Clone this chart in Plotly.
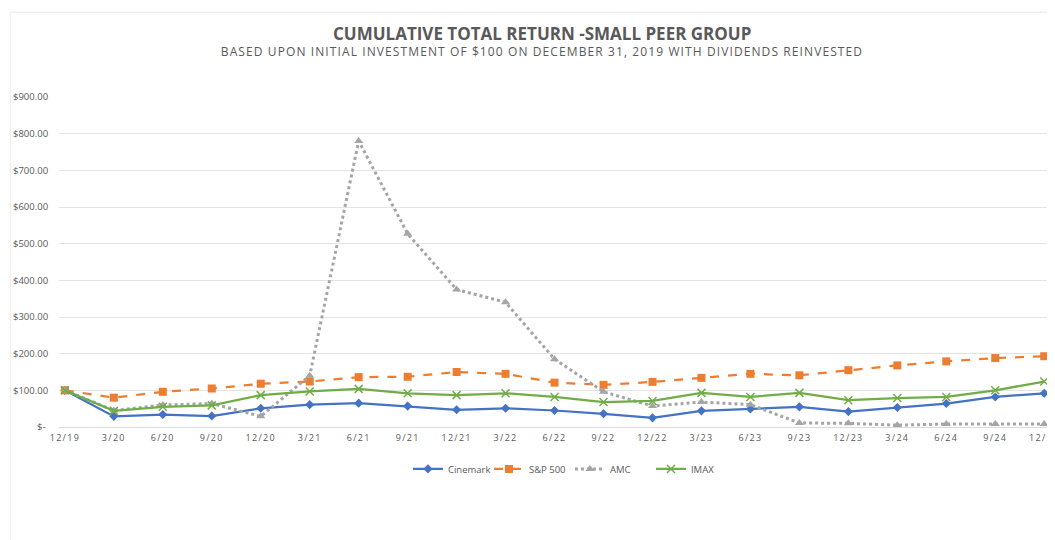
import plotly.graph_objects as go

quarters = ["12/19", "3/20", "6/20", "9/20", "12/20", "3/21", "6/21", "9/21", "12/21", "3/22",
            "6/22", "9/22", "12/22", "3/23", "6/23", "9/23", "12/23", "3/24", "6/24", "9/24", "12/24"]
cinemark = [100, 29, 34, 30, 51, 61, 65, 57, 47, 51, 45, 36, 25, 44, 49, 55, 42, 53, 64, 82, 92]
sp500 = [100, 80, 96, 105, 118, 124, 136, 137, 150, 145, 121, 115, 123, 134, 145, 141, 155, 168, 179, 188, 193]
amc = [100, 45, 60, 64, 29, 140, 780, 527, 375, 340, 185, 96, 57, 68, 61, 11, 10, 5, 8, 8, 8]
imax = [100, 44, 55, 59, 87, 97, 104, 92, 87, 92, 82, 68, 71, 93, 82, 93, 73, 79, 82, 100, 124]
y_ticks = [0, 100, 200, 300, 400, 500, 600, 700, 800, 900]
y_labels = ["\u2007\u2007\u2007\u2007$-\u2008", "$100.00", "$200.00", "$300.00", "$400.00",
            "$500.00", "$600.00", "$700.00", "$800.00", "$900.00"]

x = list(range(len(quarters)))
fig = go.Figure()
fig.add_trace(go.Scatter(x=x, y=cinemark, name="Cinemark", mode="lines+markers",
                         line=dict(color="#4472C4", width=2.25),
                         marker=dict(symbol="diamond", size=7, color="#4472C4")))
fig.add_trace(go.Scatter(x=x, y=sp500, name="S&P 500", mode="lines+markers",
                         line=dict(color="#ED7D31", width=2.25, dash="dash"),
                         marker=dict(symbol="square", size=8, color="#ED7D31")))
fig.add_trace(go.Scatter(x=x, y=amc, name="AMC", mode="lines+markers",
                         line=dict(color="#A5A5A5", width=3, dash="dot"),
                         marker=dict(symbol="triangle-up", size=8, color="#A5A5A5")))
fig.add_trace(go.Scatter(x=x, y=imax, name="IMAX", mode="lines+markers",
                         line=dict(color="#70AD47", width=2.25),
                         marker=dict(symbol="x-thin", size=8, color="#70AD47",
                                     line=dict(color="#70AD47", width=1.5))))

font_family = "Open Sans, Lato, sans-serif"
fig.update_layout(
    width=1047, height=532,
    margin=dict(l=51, r=0, t=89, b=113),
    paper_bgcolor="white", plot_bgcolor="white",
    font=dict(family=font_family, color="#595959"),
    showlegend=True,
    legend=dict(orientation="h", x=0.513, y=-0.127, xanchor="center", yanchor="middle",
                font=dict(size=9.5, color="#595959"), entrywidth=36, entrywidthmode="pixels"),
    xaxis=dict(range=[-0.12, 20.22], tickmode="array", tickvals=x, ticktext=quarters,
               showgrid=False, zeroline=False, showline=True, linecolor="#D9D9D9",
               tickfont=dict(size=9, color="#595959"), ticks="outside", ticklen=2,
               tickcolor="rgba(0,0,0,0)", ticklabeloverflow="allow"),
    yaxis=dict(range=[0, 900], tickmode="array", tickvals=y_ticks, ticktext=y_labels,
               showgrid=True, gridcolor="#E4E4E4", zeroline=False, showline=False,
               tickfont=dict(size=9.5, color="#595959"), ticks="outside", ticklen=8,
               tickcolor="rgba(0,0,0,0)"),
    annotations=[
        dict(text="<b>CUMULATIVE TOTAL RETURN -SMALL PEER GROUP</b>", xref="paper", yref="paper",
             x=0.485, y=1.193, xanchor="center", yanchor="middle", showarrow=False,
             font=dict(size=17, color="#595959", family=font_family)),
        dict(text="BASED UPON INITIAL INVESTMENT OF $100 ON DECEMBER 31, 2019 WITH DIVIDENDS REINVESTED",
             xref="paper", yref="paper", x=0.485, y=1.139, xanchor="center", yanchor="middle",
             showarrow=False, font=dict(size=12, color="#595959", family=font_family)),
    ],
    shapes=[
        dict(type="line", xref="paper", yref="paper", x0=-0.049, x1=1.0, y0=1.257, y1=1.257,
             line=dict(color="#E8E8E8", width=1)),
        dict(type="line", xref="paper", yref="paper", x0=-0.049, x1=-0.049, y0=1.257, y1=-0.4,
             line=dict(color="#EDEDED", width=1)),
    ],
)

css = (".xtick text{letter-spacing:1.3px;}"
       "g.annotation[data-index='1'] text{letter-spacing:1.1px;}")
post = ("var s=document.createElement('style');s.innerHTML=\"" + css + "\";"
        "document.head.appendChild(s);")

fig.write_html("out.html", post_script=post)
